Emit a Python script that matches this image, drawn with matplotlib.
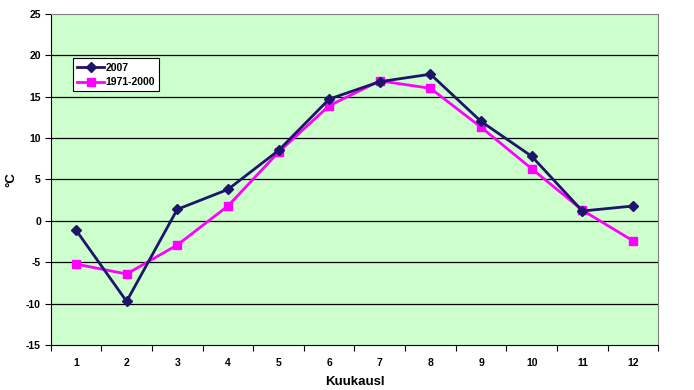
import matplotlib
matplotlib.use("Agg")
import matplotlib.pyplot as plt
import numpy as np

months = [1, 2, 3, 4, 5, 6, 7, 8, 9, 10, 11, 12]
temp_2007 = [-1.1, -9.7, 1.4, 3.8, 8.5, 14.7, 16.8, 17.7, 12.0, 7.8, 1.2, 1.8]
temp_1971_2000 = [-5.2, -6.4, -2.9, 1.8, 8.3, 13.9, 16.9, 16.0, 11.3, 6.3, 1.3, -2.4]
y_ticks = [-15, -10, -5, 0, 5, 10, 15, 20, 25]

plt.rcParams['font.family'] = ['Liberation Sans', 'DejaVu Sans']
plt.rcParams['font.weight'] = 'bold'
plt.rcParams['axes.unicode_minus'] = False

fig = plt.figure(figsize=(6.94, 3.9), dpi=100)
ax = fig.add_axes([0.073, 0.1146, 0.8756, 0.8503])
ax.set_facecolor('#CCFFCC')

for y in y_ticks[1:-1]:
	ax.axhline(y, color='black', linewidth=0.9, zorder=1)

ax.plot(months, temp_2007, color='#1C1569', linewidth=2, marker='D', markersize=5,
	label='2007', zorder=3)
ax.plot(months, temp_1971_2000, color='#FF00FF', linewidth=2, marker='s', markersize=6,
	label='1971-2000', zorder=2)

ax.set_xlim(0.5, 12.5)
ax.set_ylim(-15, 25)
ax.set_yticks(y_ticks)
ax.set_xticks(months)
ax.set_xticks(np.arange(0.5, 13, 1), minor=True)
ax.tick_params(axis='x', which='major', length=0, pad=9, labelsize=7.5)
ax.tick_params(axis='x', which='minor', length=4, direction='out', width=0.8)
ax.tick_params(axis='y', length=4, direction='out', width=0.8, labelsize=7.5, pad=3)
for lab in ax.get_xticklabels() + ax.get_yticklabels():
	lab.set_fontweight('bold')

ax.spines['left'].set_color('black')
ax.spines['bottom'].set_color('black')
ax.spines['top'].set_color('#808080')
ax.spines['right'].set_color('#808080')

ax.set_xlabel('Kuukausl', fontsize=9.5, fontweight='bold', labelpad=6)
ax.set_ylabel('°C', fontsize=9.5, fontweight='bold', labelpad=6)

leg = ax.legend(loc='upper left', bbox_to_anchor=(0.037, 0.865), fontsize=7.5, frameon=True,
	fancybox=False, edgecolor='black', framealpha=1, handlelength=2.6,
	borderpad=0.4, labelspacing=0.45, handletextpad=0.1, borderaxespad=0)
leg.get_frame().set_linewidth(0.8)
for t in leg.get_texts():
	t.set_fontweight('bold')

fig.savefig('out.png', dpi=100)
